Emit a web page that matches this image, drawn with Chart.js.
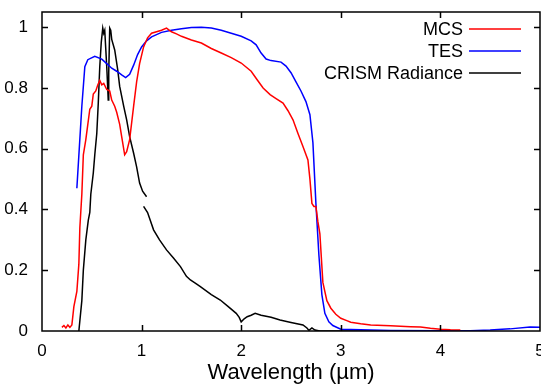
<!DOCTYPE html>
<html>
<head>
<meta charset="utf-8">
<script src="https://cdn.jsdelivr.net/npm/chart.js@4.4.0/dist/chart.umd.min.js"></script>
<style>
  html, body { margin: 0; padding: 0; background: #fff; }
  #wrap { width: 541px; height: 386px; }
</style>
</head>
<body>
<div id="wrap"><canvas id="chart" width="541" height="386"></canvas></div>
<script>
// axis ticks
const xTicks = [0, 1, 2, 3, 4, 5];
const yTicks = [0, 0.2, 0.4, 0.6, 0.8, 1];

// MCS (red)
const mcsX = [0.20, 0.22, 0.24, 0.26, 0.28, 0.30, 0.32, 0.35, 0.37, 0.38, 0.40, 0.415, 0.44, 0.46, 0.48, 0.50, 0.515, 0.54, 0.56, 0.58, 0.60, 0.62, 0.65, 0.68, 0.70, 0.73, 0.75, 0.78, 0.80, 0.83, 0.85, 0.88, 0.92, 0.95, 0.98, 1.02, 1.06, 1.10, 1.15, 1.20, 1.25, 1.30, 1.35, 1.40, 1.50, 1.60, 1.70, 1.80, 1.90, 2.00, 2.10, 2.16, 2.22, 2.29, 2.35, 2.42, 2.47, 2.52, 2.57, 2.62, 2.67, 2.69, 2.71, 2.73, 2.75, 2.77, 2.79, 2.82, 2.86, 2.90, 2.95, 3.00, 3.06, 3.10, 3.20, 3.30, 3.50, 3.70, 3.80, 3.90, 4.00, 4.10, 4.20];
const mcsY = [0.012, 0.018, 0.010, 0.020, 0.012, 0.020, 0.080, 0.130, 0.220, 0.340, 0.450, 0.580, 0.630, 0.680, 0.730, 0.740, 0.780, 0.790, 0.810, 0.825, 0.810, 0.815, 0.795, 0.790, 0.760, 0.740, 0.720, 0.680, 0.640, 0.580, 0.590, 0.630, 0.740, 0.820, 0.880, 0.935, 0.965, 0.980, 0.985, 0.990, 0.997, 0.985, 0.978, 0.970, 0.958, 0.948, 0.930, 0.915, 0.900, 0.882, 0.855, 0.827, 0.800, 0.778, 0.765, 0.750, 0.725, 0.695, 0.650, 0.607, 0.563, 0.500, 0.420, 0.410, 0.410, 0.360, 0.320, 0.160, 0.100, 0.075, 0.055, 0.042, 0.034, 0.029, 0.024, 0.020, 0.017, 0.014, 0.013, 0.009, 0.006, 0.004, 0.003];

// TES (blue)
const tesX = [0.35, 0.40, 0.43, 0.46, 0.53, 0.60, 0.65, 0.70, 0.75, 0.80, 0.84, 0.88, 0.92, 0.96, 1.00, 1.05, 1.10, 1.20, 1.30, 1.40, 1.50, 1.60, 1.70, 1.80, 1.90, 2.00, 2.10, 2.15, 2.20, 2.25, 2.30, 2.40, 2.45, 2.50, 2.55, 2.60, 2.65, 2.69, 2.72, 2.75, 2.78, 2.81, 2.84, 2.88, 2.92, 3.00, 3.20, 3.50, 4.00, 4.30, 4.50, 4.70, 4.90, 5.00];
const tesY = [0.470, 0.740, 0.870, 0.893, 0.904, 0.895, 0.880, 0.865, 0.855, 0.843, 0.834, 0.845, 0.875, 0.910, 0.935, 0.955, 0.968, 0.983, 0.990, 0.995, 0.999, 1.000, 0.997, 0.990, 0.980, 0.970, 0.955, 0.942, 0.915, 0.895, 0.890, 0.885, 0.872, 0.850, 0.820, 0.790, 0.755, 0.712, 0.620, 0.420, 0.250, 0.120, 0.058, 0.030, 0.018, 0.006, 0.004, 0.002, 0.001, 0.001, 0.003, 0.007, 0.013, 0.012];

// CRISM Radiance (black), null = break in the trace
const crismX = [0.37, 0.40, 0.415, 0.44, 0.465, 0.48, 0.49, 0.515, 0.53, 0.55, 0.565, 0.58, 0.595, 0.61, 0.62, 0.63, 0.64, 0.65, 0.66, 0.665, 0.67, 0.68, 0.69, 0.70, 0.73, 0.76, 0.78, 0.82, 0.85, 0.88, 0.92, 0.95, 0.98, 1.01, 1.05, 1.04, 1.02, 1.06, 1.12, 1.18, 1.25, 1.32, 1.39, 1.45, 1.49, 1.55, 1.59, 1.70, 1.79, 1.87, 1.95, 1.98, 2.00, 2.03, 2.06, 2.10, 2.14, 2.20, 2.30, 2.39, 2.50, 2.62, 2.66, 2.68, 2.71, 2.74, 2.79, 3.00, 3.50, 4.00];
const crismY = [0.000, 0.100, 0.200, 0.300, 0.365, 0.390, 0.450, 0.520, 0.580, 0.650, 0.750, 0.870, 0.950, 0.997, 0.980, 0.990, 0.930, 0.870, 0.800, 0.760, 0.850, 0.997, 0.990, 0.960, 0.925, 0.860, 0.805, 0.740, 0.695, 0.640, 0.585, 0.540, 0.487, 0.460, 0.442, null, 0.410, 0.390, 0.333, 0.300, 0.267, 0.240, 0.212, 0.180, 0.168, 0.155, 0.146, 0.120, 0.102, 0.080, 0.058, 0.045, 0.030, 0.040, 0.047, 0.052, 0.058, 0.052, 0.045, 0.036, 0.028, 0.020, 0.010, 0.002, 0.010, 0.003, 0.000, 0.000, 0.000, 0.000];

const labels = ['MCS', 'TES', 'CRISM Radiance'];
const colors = ['#ff0000', '#0000ff', '#000000'];

function pts(xs, ys) {
    return xs.map((x, i) => ({ x: x, y: ys[i] }));
}

const FONT = "'Liberation Sans', Arial, Helvetica, sans-serif";

// frame, inward ticks on all four sides and the legend
const framePlugin = {
    id: 'frame',
    afterDraw(chart) {
        const ctx = chart.ctx;
        const a = chart.chartArea;
        const xs = chart.scales.x;
        const ys = chart.scales.y;
        const tl = 6;
        ctx.save();
        ctx.strokeStyle = '#000';
        ctx.lineWidth = 1.5;
        ctx.strokeRect(a.left, a.top, a.right - a.left, a.bottom - a.top);
        ctx.beginPath();
        xTicks.slice(1, -1).forEach(v => {
            const px = Math.round(xs.getPixelForValue(v)) + 0.5;
            ctx.moveTo(px, a.bottom); ctx.lineTo(px, a.bottom - tl);
            ctx.moveTo(px, a.top); ctx.lineTo(px, a.top + tl);
        });
        yTicks.slice(1).forEach(v => {
            const py = Math.round(ys.getPixelForValue(v)) + 0.5;
            ctx.moveTo(a.left, py); ctx.lineTo(a.left + tl, py);
            ctx.moveTo(a.right, py); ctx.lineTo(a.right - tl, py);
        });
        ctx.stroke();

        // legend
        ctx.font = '18px ' + FONT;
        ctx.textAlign = 'right';
        ctx.textBaseline = 'middle';
        labels.forEach((lab, i) => {
            const y = 29 + i * 22;
            ctx.fillStyle = '#000';
            ctx.fillText(lab, 463, y + 1);
            ctx.strokeStyle = colors[i];
            ctx.lineWidth = 1.5;
            ctx.beginPath();
            ctx.moveTo(469, y); ctx.lineTo(521, y);
            ctx.stroke();
        });
        ctx.restore();
    }
};

const series = [pts(mcsX, mcsY), pts(tesX, tesY), pts(crismX, crismY)];

new Chart(document.getElementById('chart'), {
    type: 'line',
    data: {
        datasets: series.map((d, i) => ({
            label: labels[i],
            data: d,
            borderColor: colors[i],
            borderWidth: 1.5,
            pointRadius: 0,
            tension: 0,
            fill: false,
            spanGaps: false
        }))
    },
    options: {
        responsive: false,
        animation: false,
        layout: { padding: { top: 12, right: 1, left: 0, bottom: 0 } },
        plugins: {
            legend: { display: false },
            tooltip: { enabled: false }
        },
        scales: {
            x: {
                type: 'linear',
                min: 0,
                max: 5,
                grid: { display: false },
                border: { display: false },
                afterBuildTicks: s => { s.ticks = xTicks.map(v => ({ value: v })); },
                afterFit: s => { s.height = 55; s.paddingLeft = 0; s.paddingRight = 0; },
                ticks: {
                    color: '#000',
                    padding: 2,
                    maxRotation: 0,
                    font: { family: FONT, size: 17 },
                    callback: v => String(v)
                },
                title: {
                    display: true,
                    text: 'Wavelength (µm)',
                    color: '#000',
                    font: { family: FONT, size: 22 },
                    padding: { top: 2, bottom: 0 }
                }
            },
            y: {
                min: 0,
                max: 1.05,
                grid: { display: false },
                border: { display: false },
                afterBuildTicks: s => { s.ticks = yTicks.map(v => ({ value: v })); },
                afterFit: s => { s.width = 42; s.paddingTop = 0; s.paddingBottom = 0; },
                ticks: {
                    color: '#000',
                    padding: 6,
                    font: { family: FONT, size: 17 },
                    callback: v => String(Math.round(v * 10) / 10)
                }
            }
        }
    },
    plugins: [framePlugin]
});
</script>
</body>
</html>
